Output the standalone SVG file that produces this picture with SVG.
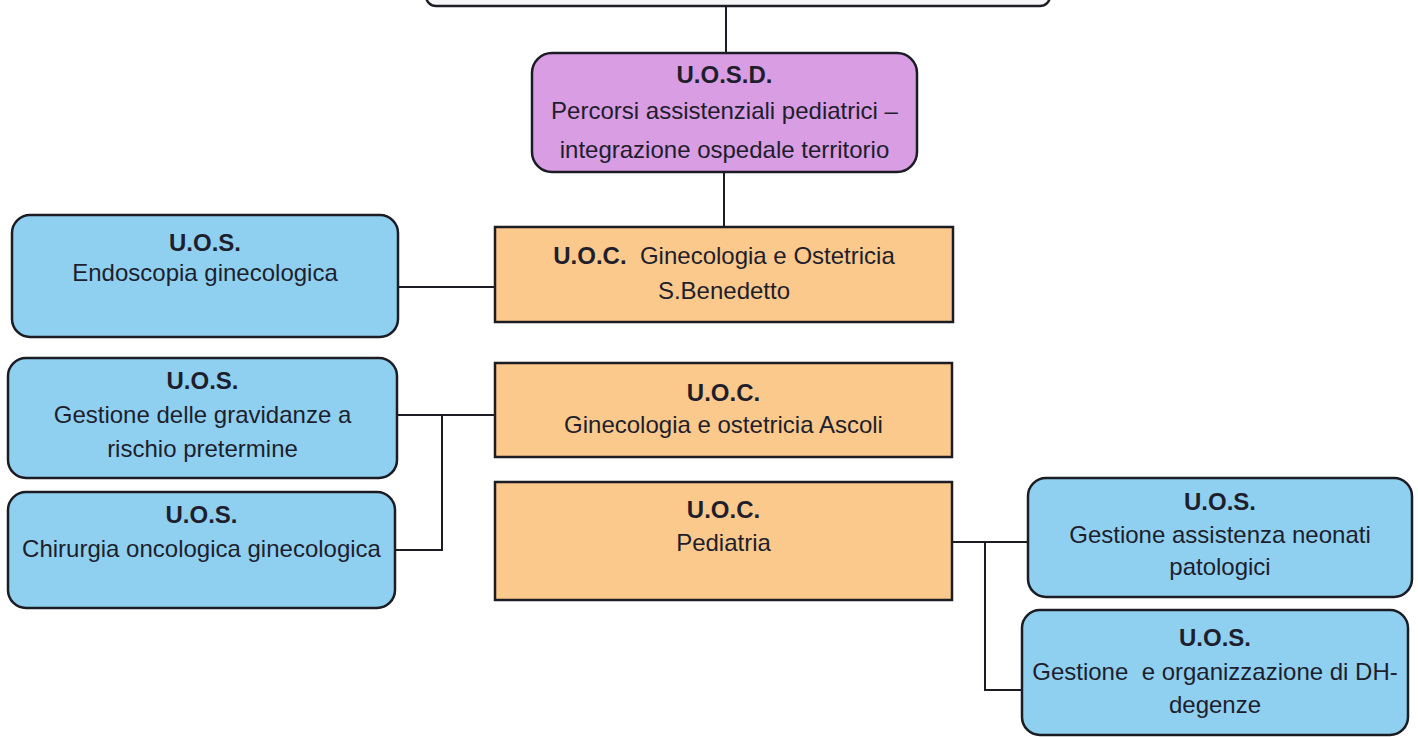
<svg xmlns="http://www.w3.org/2000/svg" width="1418" height="737" viewBox="0 0 1418 737">
<style>
.box{stroke:#1c1c24;stroke-width:2.5}
.uos{fill:#8fd0f1}
.uoc{fill:#fbc98b}
.uosd{fill:#d89de3}
.top{fill:#f6f6f6}
text{font-family:"Liberation Sans",Arial,sans-serif;font-size:24px;fill:#1e1e2c;text-anchor:middle}
.b{font-weight:bold}
.conn{stroke:#1c1c24;stroke-width:2;fill:none}
</style>
<rect width="1418" height="737" fill="#ffffff"/>
<g id="connectors">
<path class="conn" d="M726,6 V53"/>
<path class="conn" d="M724,172 V228"/>
<path class="conn" d="M398,287 H495"/>
<path class="conn" d="M397,415 H495 M442,415 V550 H390"/>
<path class="conn" d="M952,542 H1028 M985,542 V690 H1022"/>
</g>
<g id="node-top">
<rect class="box top" x="426" y="-60" width="624" height="66" rx="10"/>
</g>
<g id="node-uosd">
<rect class="box uosd" x="532" y="53" width="385" height="119" rx="20"/>
<text x="724.5" y="83" class="b">U.O.S.D.</text>
<text x="724.5" y="119">Percorsi assistenziali pediatrici –</text>
<text x="724.5" y="158">integrazione ospedale territorio</text>
</g>
<g id="node-uoc-sb">
<rect class="box uoc" x="495" y="227" width="458" height="95"/>
<text x="724" y="264" xml:space="preserve"><tspan class="b">U.O.C.</tspan>  Ginecologia e Ostetricia</text>
<text x="724" y="299">S.Benedetto</text>
</g>
<g id="node-uos-endo">
<rect class="box uos" x="12" y="215" width="386" height="122" rx="18"/>
<text x="205" y="251" class="b">U.O.S.</text>
<text x="205" y="281">Endoscopia ginecologica</text>
</g>
<g id="node-uos-grav">
<rect class="box uos" x="8" y="358" width="389" height="120" rx="18"/>
<text x="202.5" y="389" class="b">U.O.S.</text>
<text x="202.5" y="423">Gestione delle gravidanze a</text>
<text x="202.5" y="457">rischio pretermine</text>
</g>
<g id="node-uos-chir">
<rect class="box uos" x="8" y="492" width="387" height="116" rx="18"/>
<text x="201.5" y="523" class="b">U.O.S.</text>
<text x="201.5" y="557">Chirurgia oncologica ginecologica</text>
</g>
<g id="node-uoc-ascoli">
<rect class="box uoc" x="495" y="363" width="457" height="94"/>
<text x="723.5" y="401" class="b">U.O.C.</text>
<text x="723.5" y="433">Ginecologia e ostetricia Ascoli</text>
</g>
<g id="node-uoc-ped">
<rect class="box uoc" x="495" y="482" width="457" height="118"/>
<text x="723.5" y="518" class="b">U.O.C.</text>
<text x="723.5" y="551">Pediatria</text>
</g>
<g id="node-uos-neo">
<rect class="box uos" x="1028" y="478" width="384" height="119" rx="18"/>
<text x="1220" y="510" class="b">U.O.S.</text>
<text x="1220" y="543">Gestione assistenza neonati</text>
<text x="1220" y="575">patologici</text>
</g>
<g id="node-uos-dh">
<rect class="box uos" x="1022" y="610" width="386" height="125" rx="18"/>
<text x="1215" y="646" class="b">U.O.S.</text>
<text x="1215" y="680" xml:space="preserve">Gestione  e organizzazione di DH-</text>
<text x="1215" y="713">degenze</text>
</g>
</svg>
